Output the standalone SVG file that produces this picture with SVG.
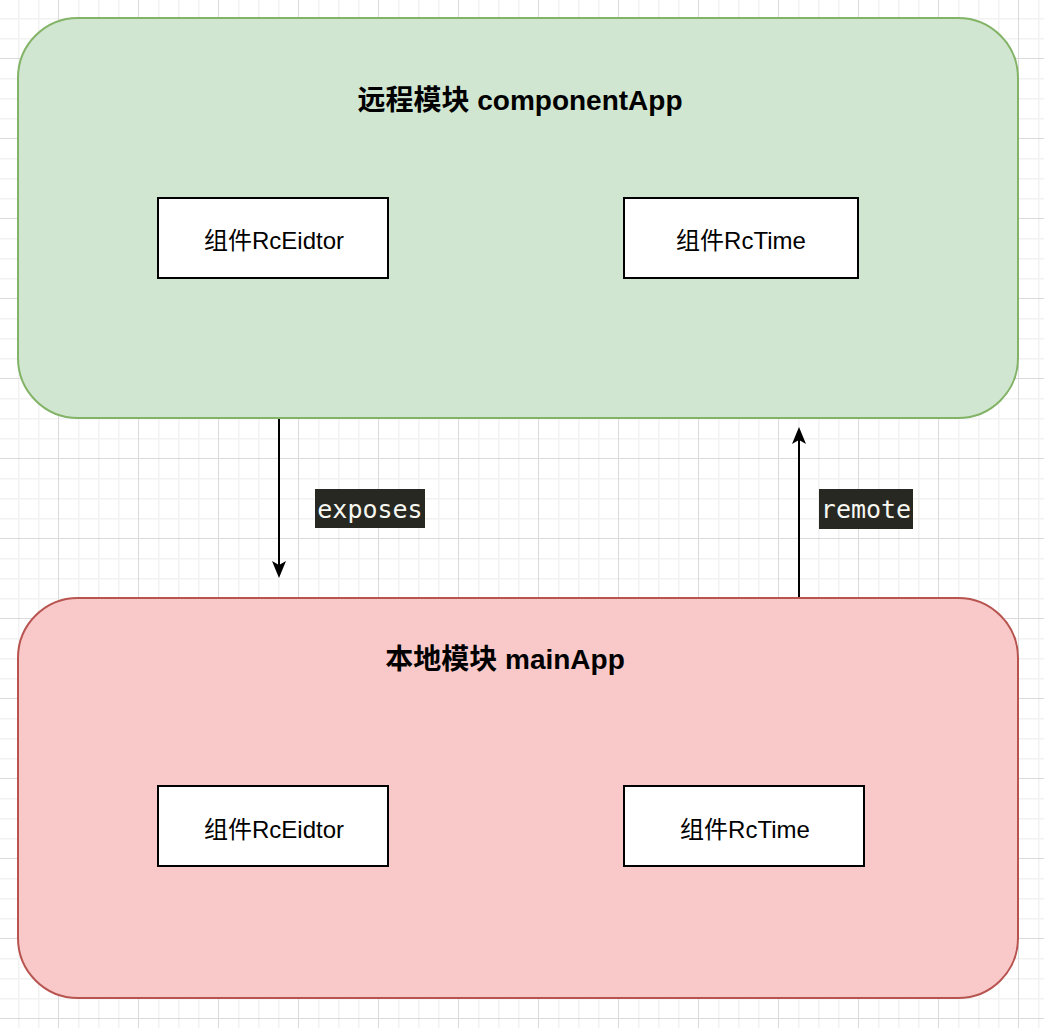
<svg xmlns="http://www.w3.org/2000/svg" width="1044" height="1028" viewBox="0 0 1044 1028">
<style>
.container-green{fill:#d0e6d0;stroke:#82b366;stroke-width:2}
.container-red{fill:#f8c9c8;stroke:#b85450;stroke-width:2}
.box{fill:#ffffff;stroke:#000000;stroke-width:2}
.title{font-family:"Liberation Sans","Noto Sans CJK SC",sans-serif;font-size:28px;font-weight:bold;fill:#000;text-anchor:middle}
.label{font-family:"Liberation Sans","Noto Sans CJK SC",sans-serif;font-size:24px;fill:#000;text-anchor:middle}
.edge{stroke:#000;stroke-width:2;fill:none}
.tag{fill:#272822}
.tagtext{font-family:"DejaVu Sans Mono","Liberation Mono",monospace;font-size:25px;fill:#f8f8f2;text-anchor:middle}
</style>
<defs>
<pattern id="grid" x="18" y="18" width="80" height="80" patternUnits="userSpaceOnUse">
<rect x="0" y="0" width="80" height="80" fill="#ffffff"/>
<rect x="0" y="0" width="1.5" height="80" fill="#f2f2f2"/>
<rect x="20" y="0" width="1.5" height="80" fill="#f2f2f2"/>
<rect x="60" y="0" width="1.5" height="80" fill="#f2f2f2"/>
<rect x="0" y="0" width="80" height="1.5" fill="#f2f2f2"/>
<rect x="0" y="20" width="80" height="1.5" fill="#f2f2f2"/>
<rect x="0" y="60" width="80" height="1.5" fill="#f2f2f2"/>
<rect x="40" y="0" width="1" height="80" fill="#dadada"/>
<rect x="0" y="40" width="80" height="1" fill="#dadada"/>
</pattern>
</defs>
<rect x="0" y="0" width="1044" height="1028" fill="url(#grid)"/>

<g id="componentApp">
<rect class="container-green" x="18" y="18" width="1000" height="400" rx="60" ry="60"/>
<text class="title" x="520" y="110">远程模块 componentApp</text>
</g>
<g id="remote-RcEidtor">
<rect class="box" x="158" y="198" width="230" height="80"/>
<text class="label" x="274" y="249">组件RcEidtor</text>
</g>
<g id="remote-RcTime">
<rect class="box" x="624" y="198" width="234" height="80"/>
<text class="label" x="741" y="249">组件RcTime</text>
</g>

<g id="mainApp">
<rect class="container-red" x="18" y="598" width="1000" height="400" rx="60" ry="60"/>
<text class="title" x="505" y="669">本地模块 mainApp</text>
</g>
<g id="local-RcEidtor">
<rect class="box" x="158" y="786" width="230" height="80"/>
<text class="label" x="274" y="838">组件RcEidtor</text>
</g>
<g id="local-RcTime">
<rect class="box" x="624" y="786" width="240" height="80"/>
<text class="label" x="745" y="838">组件RcTime</text>
</g>

<g id="connectors">
<line class="edge" x1="279" y1="419" x2="279" y2="566"/>
<path d="M279,578 L272,561 L279,565 L286,561 Z" fill="#000"/>
<rect class="tag" x="315" y="489" width="110" height="39"/>
<text class="tagtext" x="370" y="518">exposes</text>

<line class="edge" x1="799" y1="597" x2="799" y2="440"/>
<path d="M799,427 L792,444 L799,440 L806,444 Z" fill="#000"/>
<rect class="tag" x="819" y="489" width="94" height="40"/>
<text class="tagtext" x="866" y="518">remote</text>
</g>
</svg>
